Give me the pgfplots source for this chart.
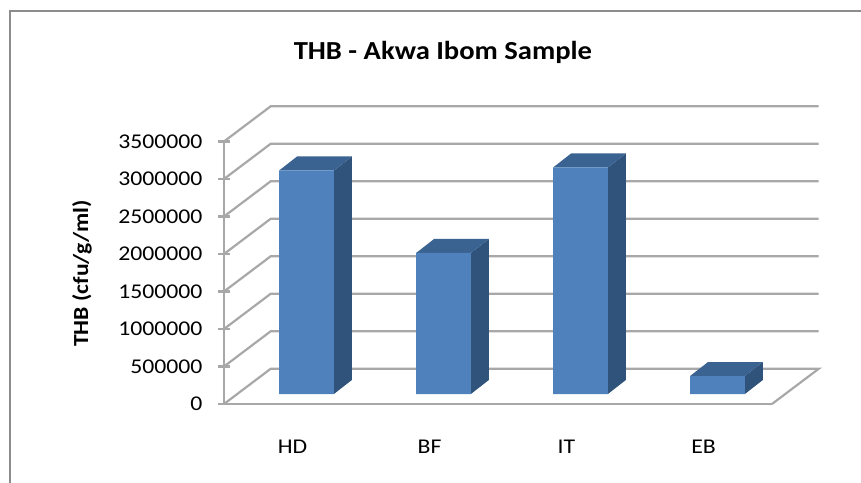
\documentclass[border=0pt]{standalone}
\usepackage{pgfplots}
\usepackage{pgfplotstable}
\usepackage{fontspec}
\pgfplotsset{compat=1.18}
\setmainfont{Carlito}
\newfontfamily\widefont[FakeStretch=1.13]{Carlito}
\newfontfamily\titlefont[FakeStretch=1.1]{Carlito}
\definecolor{barfront}{HTML}{4F81BD}
\definecolor{bartop}{HTML}{3B6391}
\definecolor{barside}{HTML}{30537C}
\definecolor{gridgray}{HTML}{A8A8A8}
\definecolor{framegray}{HTML}{8C8C8C}
\pgfplotstableread{
pos value
0 2980000
1 1880000
2 3020000
3 240000
}\thbdata
\begin{document}
\begin{tikzpicture}[x=1pt,y=1pt]
\path[use as bounding box] (0,0) rectangle (861,482);
\draw[framegray,line width=2.6pt] (10,-2)--(10,471)--(863,471);
\begin{axis}[
  at={(224pt,78pt)},anchor=south west,
  scale only axis,width=548pt,height=262.5pt,
  xmin=-0.5,xmax=3.5,ymin=0,ymax=3500000,
  clip=false,
  axis x line=bottom,axis y line=left,
  axis line style={gridgray,line width=2.2pt,-},
  xtick={0,1,2,3},xticklabels={HD,BF,IT,EB},
  x tick style={draw=none},
  xticklabel style={font=\widefont\fontsize{21}{25}\selectfont,yshift=-26pt},
  ytick={0,500000,1000000,1500000,2000000,2500000,3000000,3500000},
  scaled y ticks=false,
  y tick style={gridgray,line width=2.2pt},
  major tick length=12pt,
  tick align=center,
  yticklabel style={font=\widefont\fontsize{21}{25}\selectfont,xshift=-12pt},
  /pgf/number format/.cd,fixed,1000 sep={},assume math mode=true,
  /pgfplots/.cd,
  title={\textbf{THB - Akwa Ibom Sample}},
  every axis title/.style={at={(0.3995,1.338)},anchor=center,font=\titlefont\fontsize{26}{30}\selectfont},
  ylabel={\textbf{THB (cfu/g/ml)}},
  every axis y label/.style={at={(-0.259,0.497)},rotate=90,anchor=center,font=\titlefont\fontsize{21.5}{25}\selectfont},
]
\addplot[gridgray,line width=2.2pt,no markers] coordinates {(-0.5,0)(-0.159,470000)(3.841,470000)(3.5,0)};
\addplot[gridgray,line width=2.2pt,no markers] coordinates {(-0.5,500000)(-0.159,970000)(3.841,970000)};
\addplot[gridgray,line width=2.2pt,no markers] coordinates {(-0.5,1000000)(-0.159,1470000)(3.841,1470000)};
\addplot[gridgray,line width=2.2pt,no markers] coordinates {(-0.5,1500000)(-0.159,1970000)(3.841,1970000)};
\addplot[gridgray,line width=2.2pt,no markers] coordinates {(-0.5,2000000)(-0.159,2470000)(3.841,2470000)};
\addplot[gridgray,line width=2.2pt,no markers] coordinates {(-0.5,2500000)(-0.159,2970000)(3.841,2970000)};
\addplot[gridgray,line width=2.2pt,no markers] coordinates {(-0.5,3000000)(-0.159,3470000)(3.841,3470000)};
\addplot[gridgray,line width=2.2pt,no markers] coordinates {(-0.5,3500000)(-0.159,3970000)(3.841,3970000)};
\end{axis}
\begin{axis}[
  at={(238pt,88pt)},anchor=south west,
  scale only axis,width=548pt,height=262.5pt,
  xmin=-0.5,xmax=3.5,ymin=0,ymax=3500000,
  clip=false,hide axis,
]
% side faces
\addplot[fill=barside,draw=none] coordinates {(0.2,0)(0.331,186667)(0.331,3166667)(0.2,2980000)} --cycle;
\addplot[fill=barside,draw=none] coordinates {(1.2,0)(1.331,186667)(1.331,2066667)(1.2,1880000)} --cycle;
\addplot[fill=barside,draw=none] coordinates {(2.2,0)(2.331,186667)(2.331,3206667)(2.2,3020000)} --cycle;
\addplot[fill=barside,draw=none] coordinates {(3.2,0)(3.331,186667)(3.331,426667)(3.2,240000)} --cycle;
% top faces
\addplot[fill=bartop,draw=none] coordinates {(-0.2,2980000)(0.2,2980000)(0.331,3166667)(-0.069,3166667)} --cycle;
\addplot[fill=bartop,draw=none] coordinates {(0.8,1880000)(1.2,1880000)(1.331,2066667)(0.931,2066667)} --cycle;
\addplot[fill=bartop,draw=none] coordinates {(1.8,3020000)(2.2,3020000)(2.331,3206667)(1.931,3206667)} --cycle;
\addplot[fill=bartop,draw=none] coordinates {(2.8,240000)(3.2,240000)(3.331,426667)(2.931,426667)} --cycle;
% front faces, the values themselves
\addplot[ybar,bar width=54.8pt,bar shift=0pt,fill=barfront,draw=none] table[x=pos,y=value] {\thbdata};
\end{axis}
\end{tikzpicture}
\end{document}
